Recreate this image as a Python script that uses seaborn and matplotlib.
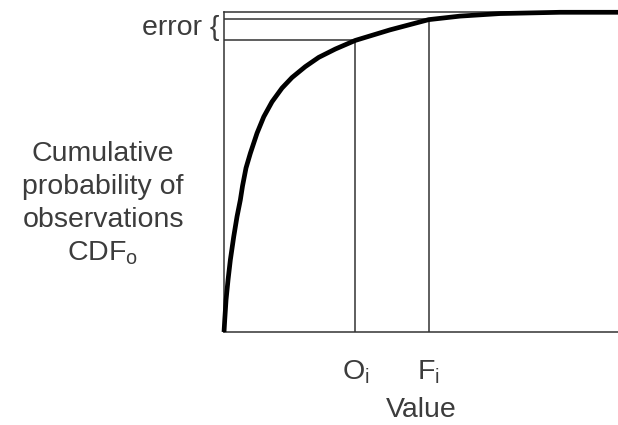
import matplotlib
matplotlib.use("Agg")
import matplotlib.pyplot as plt
import pandas as pd
import seaborn as sns

# Observed CDF curve (value axis scaled 0-100, probability 0-1)
value = [0, 0.18, 0.51, 1.02, 1.60, 2.46, 3.30, 4.14, 4.70, 5.58, 6.68, 8.38,
         10.08, 12.18, 14.72, 17.26, 20.63, 24.04, 28.25, 33.32, 42.13, 51.95,
         59.90, 70.05, 85.28, 100]
cdf_obs = [0, 0.038, 0.100, 0.163, 0.225, 0.298, 0.361, 0.413, 0.457, 0.513,
           0.559, 0.622, 0.673, 0.720, 0.763, 0.796, 0.830, 0.859, 0.885, 0.912,
           0.945, 0.977, 0.988, 0.996, 1.0, 1.0]

# Observation and forecast values with their cumulative probabilities
marker_values = [33.32, 51.95]
marker_cdfs = [0.912, 0.978]
tick_labels = [r"$\mathrm{O_i}$", r"$\mathrm{F_i}$"]
ylabel_lines = ["Cumulative", "probability of", "observations", r"CDF$_\mathrm{o}$"]

sns.set_style("white")
plt.rcParams["font.family"] = ["Liberation Sans", "DejaVu Sans"]
plt.rcParams["mathtext.fontset"] = "custom"
plt.rcParams["mathtext.rm"] = "Liberation Sans"
plt.rcParams["mathtext.it"] = "Liberation Sans:italic"

text_color = "#3c3c3c"
line_color = "#333333"
fs = 20.5

fig = plt.figure(figsize=(6.18, 4.25), dpi=100)
ax = fig.add_axes([0.3625, 0.2188, 0.6375, 0.7523])

df = pd.DataFrame({"value": value, "cdf": cdf_obs})
sns.lineplot(data=df, x="value", y="cdf", ax=ax, color="black", linewidth=3.4,
             clip_on=False, zorder=4, solid_joinstyle="round", solid_capstyle="butt")

ax.vlines(marker_values, 0, marker_cdfs, color=line_color, linewidth=1.1, zorder=3)
ax.hlines(marker_cdfs, 0, marker_values, color=line_color, linewidth=1.1, zorder=3)

ax.set_xlim(0, 100)
ax.set_ylim(0, 1)

for side in ["left", "bottom", "top"]:
    ax.spines[side].set_visible(True)
    ax.spines[side].set_color(line_color)
    ax.spines[side].set_linewidth(1.1)
ax.spines["right"].set_visible(False)

ax.set_yticks([])
ax.set_xticks(marker_values, tick_labels)
ax.tick_params(axis="x", length=0, pad=19, labelsize=fs, labelcolor=text_color)
ax.set_xlabel("Value", fontsize=fs, color=text_color, labelpad=8)
ax.set_ylabel("")

# Multi-line y label placed to the left of the axis
for i, line in enumerate(ylabel_lines):
    fig.text(103 / 618, 1 - (154 + i * 33) / 425, line, ha="center", va="center",
             fontsize=fs, color=text_color)

# Error bracket label next to the two upper horizontal lines
fig.text(219 / 618, 1 - 28 / 425, "error {", ha="right", va="center",
         fontsize=fs, color=text_color)

fig.savefig("out.png", dpi=100)
